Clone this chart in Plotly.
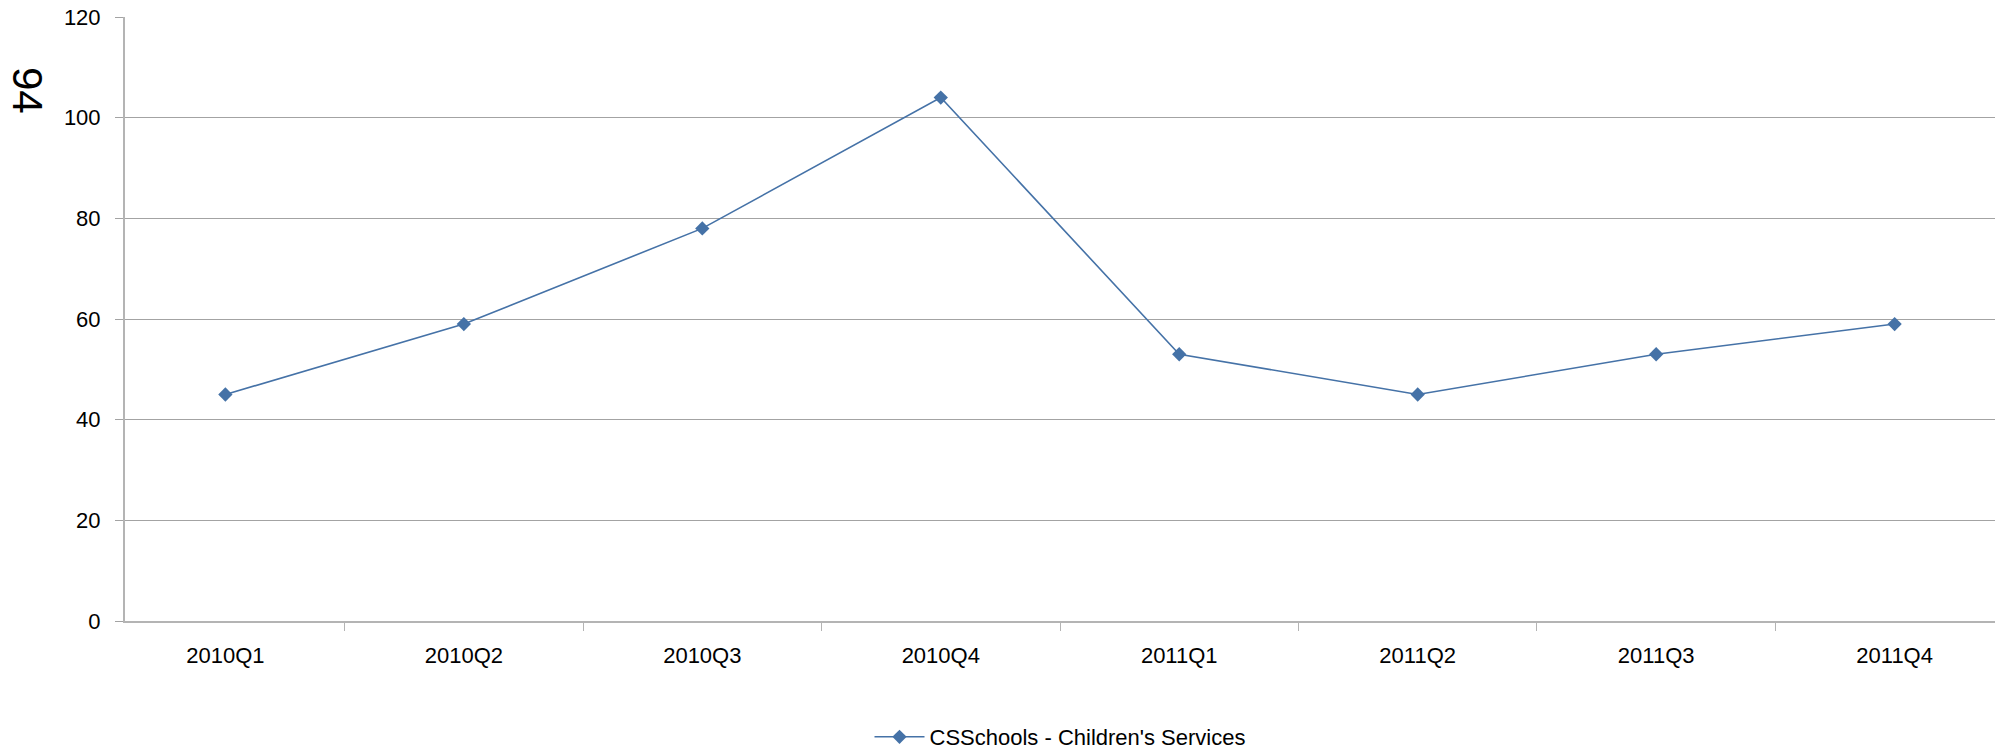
import plotly.graph_objects as go

# Quarterly counts for CS Schools - Children's Services
quarters = ["2010Q1", "2010Q2", "2010Q3", "2010Q4", "2011Q1", "2011Q2", "2011Q3", "2011Q4"]
counts = [45, 59, 78, 104, 53, 45, 53, 59]
series_name = "CSSchools - Children's Services"
y_ticks = [0, 20, 40, 60, 80, 100, 120]

W, H = 1998, 751
M_L, M_R, M_T, M_B = 125, 3, 17, 130
plot_h = H - M_T - M_B

line_blue = "#4572A7"
grid_gray = "#a3a3a3"
axis_gray = "#b4b4b4"
font_family = "Liberation Sans, Arial, sans-serif"

fig = go.Figure()
fig.add_trace(go.Scatter(
    x=quarters,
    y=counts,
    name=series_name,
    mode="lines+markers",
    line=dict(color=line_blue, width=1.6),
    marker=dict(symbol="diamond", size=11, color=line_blue),
))

fig.update_layout(
    width=W,
    height=H,
    autosize=False,
    margin=dict(l=M_L, r=M_R, t=M_T, b=M_B, pad=0, autoexpand=False),
    paper_bgcolor="white",
    plot_bgcolor="white",
    font=dict(family=font_family, size=22, color="black"),
    showlegend=True,
    legend=dict(
        orientation="h",
        x=0.5,
        xanchor="center",
        y=-(737 - (H - M_B)) / plot_h,
        yanchor="middle",
        font=dict(size=22),
        itemwidth=50,
        bgcolor="rgba(0,0,0,0)",
    ),
    xaxis=dict(
        type="category",
        showgrid=False,
        showline=True,
        linecolor=axis_gray,
        linewidth=2,
        ticks="outside",
        tickson="boundaries",
        ticklen=8,
        tickcolor=axis_gray,
        tickfont=dict(size=22),
        ticklabelstandoff=14,
        zeroline=False,
    ),
    yaxis=dict(
        range=[0, 120],
        tickvals=y_ticks,
        showgrid=True,
        gridcolor=grid_gray,
        gridwidth=1,
        showline=True,
        linecolor=axis_gray,
        linewidth=2,
        ticks="outside",
        ticklen=8,
        tickcolor=grid_gray,
        tickfont=dict(size=22),
        ticklabelstandoff=10,
        zeroline=False,
    ),
    annotations=[
        dict(
            text="94",
            xref="paper",
            yref="paper",
            x=(28 - M_L) / (W - M_L - M_R),
            y=((H - M_B) - 90) / plot_h,
            xanchor="center",
            yanchor="middle",
            textangle=90,
            showarrow=False,
            font=dict(size=42, color="black"),
        )
    ],
)

fig.write_html("out.html")
